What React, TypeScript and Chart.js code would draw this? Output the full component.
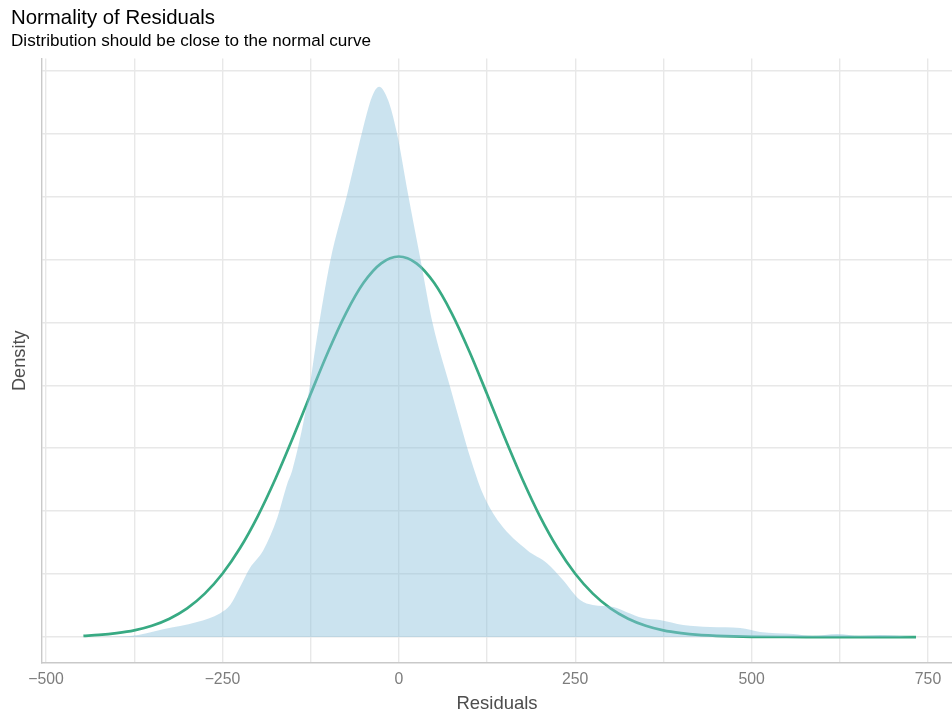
import React, { useEffect, useRef } from "react";
import { Chart, registerables } from "chart.js";

Chart.register(...registerables);

// Kernel density of residuals
const densityX = [
  -447, -381, -334, -286, -253, -239, -225, -211, -192, -172, -158, -151, -130, -116, -97, -73,
  -52, -38, -28, -15, -3, 13, 30, 48, 73, 87, 101, 119, 143, 182, 210, 233, 257, 275, 304, 323,
  346, 370, 403, 441, 484, 512, 559, 587, 621, 654, 682, 729,
];
const densityY = [
  0, 0.000008, 0.000063, 0.000119, 0.00019, 0.000254, 0.000397, 0.000548, 0.00069, 0.000952,
  0.00122, 0.001325, 0.00186, 0.00238, 0.00299, 0.00352, 0.00401, 0.00429, 0.00437, 0.00426,
  0.00401, 0.00352, 0.00302, 0.00249, 0.00198, 0.0017, 0.00143, 0.00114, 0.000905, 0.00069,
  0.000587, 0.000452, 0.000294, 0.000254, 0.000238, 0.000198, 0.000151, 0.000135, 0.000095,
  0.000079, 0.000071, 0.00004, 0.000024, 0.000008, 0.000024, 0.000008, 0.000016, 0,
];

// Reference normal curve
const normalX = [
  -447, -425, -400, -375, -350, -325, -300, -275, -250, -225, -200, -175, -150, -125, -100, -75,
  -50, -25, 0, 25, 50, 75, 100, 125, 150, 175, 200, 225, 250, 275, 300, 325, 350, 375, 400, 425,
  450, 475, 500, 550, 600, 650, 700, 733,
];
const normalY = [
  0.00001, 0.000017, 0.000031, 0.000053, 0.00009, 0.000146, 0.000228, 0.000345, 0.000503,
  0.000707, 0.000959, 0.001255, 0.001584, 0.00193, 0.002268, 0.002571, 0.002813, 0.002968,
  0.003022, 0.002968, 0.002813, 0.002571, 0.002268, 0.00193, 0.001584, 0.001255, 0.000959,
  0.000707, 0.000503, 0.000345, 0.000228, 0.000146, 0.00009, 0.000053, 0.000031, 0.000017,
  0.00001, 0.000005, 0.000002, 0.0000005, 0, 0, 0, 0,
];

const xTicks = [-500, -375, -250, -125, 0, 125, 250, 375, 500, 625, 750];
const xLabelTicks = [-500, -250, 0, 250, 500, 750];
const yTicks = [0, 0.0005, 0.001, 0.0015, 0.002, 0.0025, 0.003, 0.0035, 0.004, 0.0045];

const FONT = "'Liberation Sans', Arial, Helvetica, sans-serif";

export default function App() {
  const ref = useRef<HTMLCanvasElement | null>(null);

  useEffect(() => {
    if (!ref.current) return;
    const chart = new Chart(ref.current, {
      type: "line",
      data: {
        datasets: [
          {
            label: "Density",
            data: densityX.map((x, i) => ({ x, y: densityY[i] })),
            fill: "origin",
            backgroundColor: "rgba(140,192,220,0.45)",
            borderWidth: 0,
            borderColor: "rgba(0,0,0,0)",
            pointRadius: 0,
            cubicInterpolationMode: "monotone",
          },
          {
            label: "Normal",
            data: normalX.map((x, i) => ({ x, y: normalY[i] })),
            fill: false,
            borderColor: "#38aa83",
            borderWidth: 2.7,
            pointRadius: 0,
            cubicInterpolationMode: "monotone",
          },
        ],
      },
      options: {
        responsive: false,
        animation: false,
        devicePixelRatio: 1,
        layout: { padding: { left: 11, right: 0, top: 0, bottom: 0 } },
        plugins: {
          legend: { display: false },
          tooltip: { enabled: false },
          title: {
            display: true,
            text: "Normality of Residuals",
            align: "start",
            color: "#000",
            font: { family: FONT, size: 20.4, weight: "normal", lineHeight: 1 },
            padding: { top: 8.5, bottom: 0 },
          },
          subtitle: {
            display: true,
            text: "Distribution should be close to the normal curve",
            align: "start",
            color: "#000",
            font: { family: FONT, size: 17.1, weight: "normal", lineHeight: 1.2 },
            padding: { top: 2.2, bottom: 6.8 },
          },
        },
        scales: {
          x: {
            type: "linear",
            min: -505.7,
            max: 784,
            afterBuildTicks: (scale: any) => {
              scale.ticks = xTicks.map((v) => ({ value: v }));
            },
            afterFit: (scale: any) => {
              scale.height = 56;
            },
            grid: { color: "#e8e8e8", lineWidth: 1.4, drawTicks: false },
            border: { display: true, color: "#c9c9c9", width: 1.4 },
            ticks: {
              padding: 7,
              color: "#7d7d7d",
              font: { family: FONT, size: 15.8 },
              maxRotation: 0,
              autoSkip: false,
              callback: (v: any) => {
                const n = Number(v);
                if (!xLabelTicks.includes(n)) return "";
                return n < 0 ? "\u2212" + Math.abs(n) : String(n);
              },
            },
            title: {
              display: true,
              text: "Residuals",
              color: "#4d4d4d",
              font: { family: FONT, size: 18.5 },
              padding: { top: 0, bottom: 3.5 },
            },
          },
          y: {
            type: "linear",
            min: -0.000206,
            max: 0.004595,
            afterBuildTicks: (scale: any) => {
              scale.ticks = yTicks.map((v) => ({ value: v }));
            },
            afterFit: (scale: any) => {
              scale.width = 31;
            },
            grid: { color: "#e8e8e8", lineWidth: 1.4, drawTicks: false },
            border: { display: true, color: "#c9c9c9", width: 1.4 },
            ticks: { display: false },
            title: {
              display: true,
              text: "Density",
              color: "#4d4d4d",
              font: { family: FONT, size: 18.2, lineHeight: 0.9 },
              padding: { top: 1, bottom: 0 },
            },
          },
        },
      },
    });
    return () => chart.destroy();
  }, []);

  return (
    <div style={{ position: "absolute", left: 0, top: 0, width: 952, height: 719 }}>
      <canvas ref={ref} width={952} height={719} style={{ display: "block" }} />
    </div>
  );
}
